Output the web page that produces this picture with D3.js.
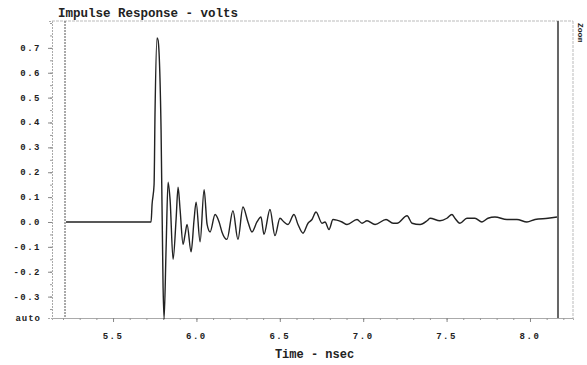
<!DOCTYPE html>
<html>
<head>
<meta charset="utf-8">
<script src="https://cdn.jsdelivr.net/npm/d3@7"></script>
<style>
  body { margin: 0; background: #fff; }
  svg { display: block; }
  text { font-family: "Liberation Mono", "DejaVu Sans Mono", monospace; font-weight: bold; fill: #222; }
</style>
</head>
<body>
<div id="chart"></div>
<script>
// time (nsec) and impulse response (volts)
const times = [5.218, 5.728, 5.734, 5.746, 5.752, 5.764, 5.770, 5.788, 5.800, 5.806,
  5.818, 5.830, 5.842, 5.860, 5.878, 5.890, 5.902, 5.920, 5.932, 5.944,
  5.968, 5.986, 5.998, 6.022, 6.046, 6.064, 6.082, 6.112, 6.136, 6.153,
  6.183, 6.219, 6.249, 6.279, 6.309, 6.333, 6.363, 6.387, 6.405, 6.441,
  6.471, 6.501, 6.525, 6.549, 6.585, 6.609, 6.639, 6.669, 6.693, 6.717,
  6.753, 6.771, 6.795, 6.819, 6.873, 6.903, 6.963, 6.993, 7.023, 7.071,
  7.137, 7.179, 7.203, 7.263, 7.293, 7.341, 7.383, 7.401, 7.460, 7.502,
  7.532, 7.550, 7.580, 7.622, 7.670, 7.712, 7.748, 7.790, 7.862, 7.922,
  7.982, 8.030, 8.108, 8.162];
const volts = [0, 0, 0.07, 0.15, 0.45, 0.74, 0.73, 0.37, -0.26, -0.39,
  -0.11, 0.16, 0.09, -0.15, 0.01, 0.14, 0.05, -0.09, -0.05, -0.01,
  -0.12, 0.01, 0.08, -0.08, 0.13, -0.01, -0.04, 0.03, 0.0, -0.04,
  -0.07, 0.045, -0.07, 0.06, 0.0, -0.04, 0.0, 0.02, -0.05, 0.05,
  -0.055, 0.015, 0.0, -0.01, 0.03, -0.01, -0.045, -0.005, 0.01, 0.04,
  -0.005, 0.0, -0.03, 0.01, 0.0, -0.01, 0.01, -0.005, 0.005, -0.01,
  0.01, -0.005, -0.005, 0.025, -0.005, -0.01, 0.005, 0.015, 0.005, 0.015,
  0.03, 0.015, -0.005, 0.015, 0.015, 0.0, 0.015, 0.02, 0.01, 0.01,
  0.0, 0.01, 0.015, 0.02];

const yTicks = [0.7, 0.6, 0.5, 0.4, 0.3, 0.2, 0.1, 0.0, -0.1, -0.2, -0.3];
const xTicks = [5.5, 6.0, 6.5, 7.0, 7.5, 8.0];
const cursors = [5.212, 8.168];

const width = 587, height = 365;
const margin = { top: 21, right: 14, bottom: 47, left: 52 };

const svg = d3.select("#chart").append("svg")
  .attr("width", width)
  .attr("height", height);

const x = d3.scaleLinear().domain([5.134, 8.258]).range([margin.left, width - margin.right]);
const y = d3.scaleLinear().domain([-0.386, 0.808]).range([height - margin.bottom, margin.top]);

const x0 = x.range()[0], x1 = x.range()[1];
const y0 = y.range()[0], y1 = y.range()[1];

// frame
svg.append("line").attr("x1", x0).attr("x2", x1).attr("y1", y1).attr("y2", y1)
  .style("stroke", "#bbb").style("stroke-dasharray", "3,1");
svg.append("line").attr("x1", x1).attr("x2", x1).attr("y1", y1).attr("y2", y0)
  .style("stroke", "#bbb").style("stroke-dasharray", "3,1");

// left axis
const yAxis = svg.append("g").attr("transform", "translate(" + x0 + ",0)")
  .call(d3.axisLeft(y).tickValues(d3.range(-0.35, 0.801, 0.05)).tickSize(2).tickFormat(""));
yAxis.select(".domain").remove();
yAxis.selectAll(".tick line").style("stroke", "#999");
svg.append("g").attr("transform", "translate(" + x0 + ",0)")
  .call(d3.axisLeft(y).tickValues(yTicks).tickSize(4).tickFormat(""))
  .call(g => g.select(".domain").style("stroke", "#aaa").style("stroke-dasharray", "2,1"))
  .call(g => g.selectAll(".tick line").style("stroke", "#888"));

svg.selectAll("text.ylab")
  .data(yTicks)
  .enter()
  .append("text")
  .attr("class", "ylab")
  .attr("x", 41)
  .attr("y", d => y(d) + 3)
  .attr("text-anchor", "end")
  .style("font-size", "9px")
  .style("letter-spacing", "1.5px")
  .text(d => d.toFixed(1));

svg.append("text")
  .attr("x", 41).attr("y", y0 + 3)
  .attr("text-anchor", "end")
  .style("font-size", "9px")
  .style("letter-spacing", "1px")
  .text("auto");

// bottom axis
svg.append("g").attr("transform", "translate(0," + y0 + ")")
  .call(d3.axisBottom(x).tickValues(d3.range(5.2, 8.25, 0.1)).tickSize(2).tickFormat(""))
  .call(g => g.select(".domain").style("stroke", "#aaa"))
  .call(g => g.selectAll(".tick line").style("stroke", "#999"));
svg.append("g").attr("transform", "translate(0," + y0 + ")")
  .call(d3.axisBottom(x).tickValues(xTicks).tickSize(4).tickFormat(""))
  .call(g => g.select(".domain").remove())
  .call(g => g.selectAll(".tick line").style("stroke", "#888"));

svg.selectAll("text.xlab")
  .data(xTicks)
  .enter()
  .append("text")
  .attr("class", "xlab")
  .attr("x", d => x(d))
  .attr("y", 339)
  .attr("text-anchor", "middle")
  .style("font-size", "9px")
  .style("letter-spacing", "1.5px")
  .text(d => d.toFixed(1));

// titles
svg.append("text")
  .attr("x", 58).attr("y", 17)
  .style("font-size", "12.5px")
  .text("Impulse Response - volts");

svg.append("text")
  .attr("x", (x0 + x1) / 2 + 2).attr("y", 358)
  .attr("text-anchor", "middle")
  .style("font-size", "12px")
  .text("Time - nsec");

svg.append("text")
  .attr("transform", "translate(578," + (y1 + 2) + ") rotate(90)")
  .style("font-size", "8px")
  .text("Zoom");

// cursors
svg.append("line")
  .attr("x1", x(cursors[0])).attr("x2", x(cursors[0]))
  .attr("y1", y1).attr("y2", y0)
  .style("stroke", "#555").style("stroke-dasharray", "2,1");
svg.append("line")
  .attr("x1", x(cursors[1])).attr("x2", x(cursors[1]))
  .attr("y1", y1).attr("y2", y0)
  .style("stroke", "#666").style("stroke-width", "2px");

// trace
const points = times.map((t, i) => [t, volts[i]]);
svg.append("path")
  .datum(points)
  .attr("d", d3.line().curve(d3.curveMonotoneX).x(d => x(d[0])).y(d => y(d[1])))
  .style("fill", "none")
  .style("stroke", "#222")
  .style("stroke-width", "1.4px")
  .style("stroke-linejoin", "round");
</script>
</body>
</html>
